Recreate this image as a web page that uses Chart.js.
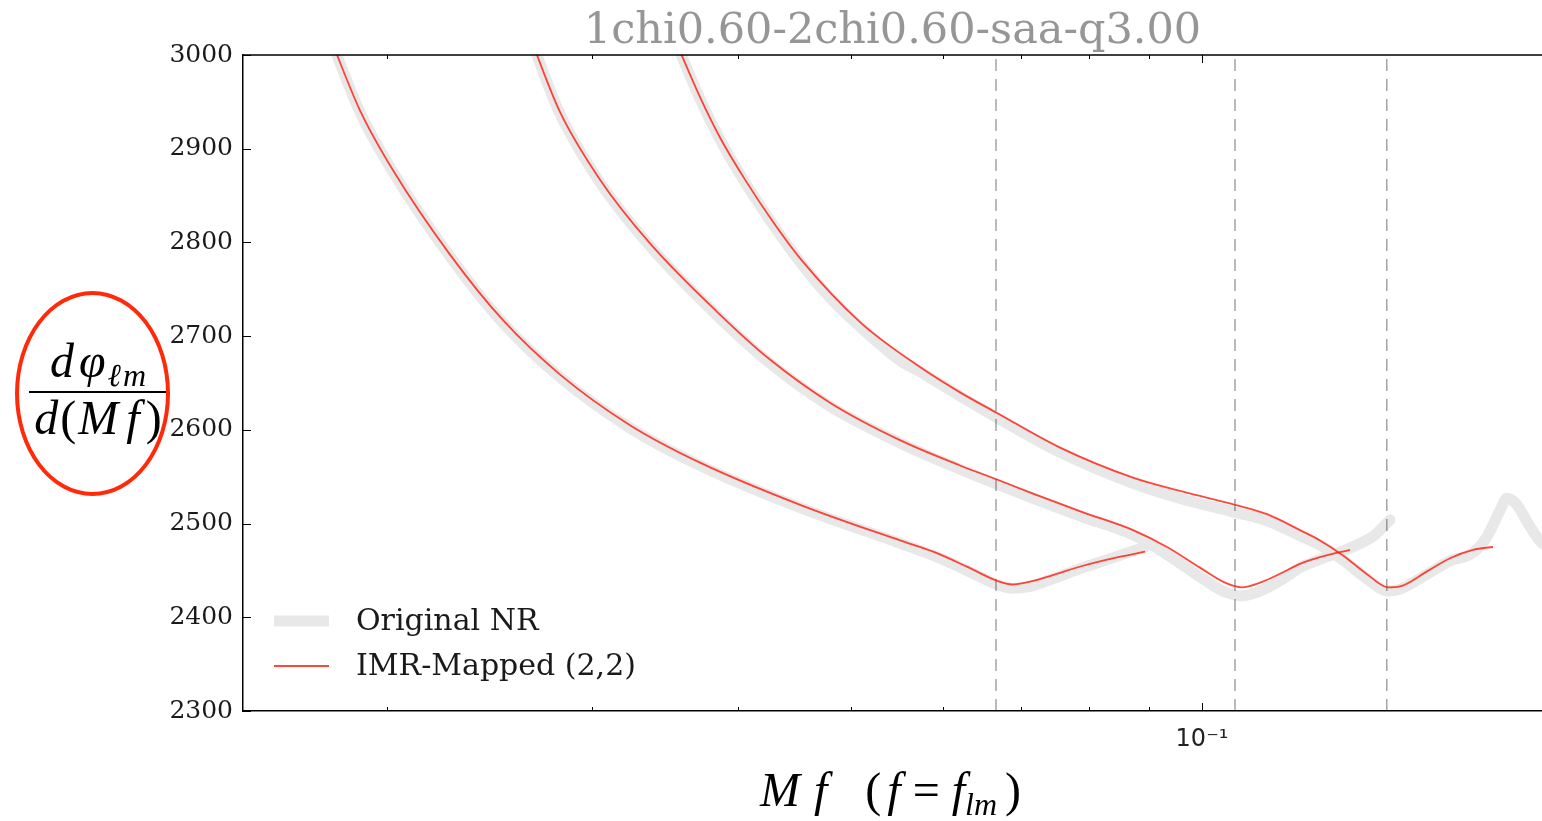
<!DOCTYPE html>
<html>
<head>
<meta charset="utf-8">
<script src="https://cdn.jsdelivr.net/npm/chart.js@4.4.0/dist/chart.umd.min.js"></script>
<style>
  html, body { margin: 0; padding: 0; background: #fff; overflow: hidden; }
  #wrap { position: relative; width: 1542px; height: 821px; }
  #mychart { position: absolute; left: 0; top: 0; }
  .math { position: absolute; font-family: 'Liberation Serif', serif; color: #000; white-space: nowrap; }
  .math i { font-style: italic; }
  #ylab { left: 29px; top: 341px; width: 140px; text-align: center; font-size: 48px; letter-spacing: 2px; }
  #ylab .num { line-height: 40px; height: 40px; padding-bottom: 10px; border-bottom: 2px solid #000; }
  #ylab .den { line-height: 50px; }
  #xlab { left: 760px; top: 766px; font-size: 48px; line-height: 48px; }
  .sub { position: relative; top: 9px; font-size: 32px; }
  #ring { position: absolute; left: 15px; top: 291px; width: 147px; height: 197px;
          border: 4px solid #ff2a0a; border-radius: 50%; }
</style>
</head>
<body>
<div id="wrap">
  <canvas id="mychart" width="1542" height="821"></canvas>
  <div class="math" id="ylab"><div class="num"><i>d</i><i style="margin-left:3px">φ</i><span class="sub"><i>ℓm</i></span></div><div class="den"><i>d</i>(<i>M</i><i style="margin-left:6px">f</i><span style="margin-left:4px">)</span></div></div>
  <div class="math" id="xlab"><i>M</i><i style="margin-left:14px">f</i><span style="margin-left:38px">(</span><i style="margin-left:6px">f</i><span style="margin-left:12px">=</span><i style="margin-left:12px">f</i><span class="sub"><i>lm</i></span><span style="margin-left:8px">)</span></div>
  <div id="ring"></div>
</div>
<script>
// axes
var xMin = 0.01505;
var xMax = 0.1957;
var yMin = 2300;
var yMax = 3000;
var xTickValues = [0.02, 0.03, 0.04, 0.05, 0.06, 0.07, 0.08, 0.09, 0.1];
var peakFreqs = [0.06658, 0.10673, 0.14405];

// IMR-Mapped (2,2), three runs
var mappedFreqA = [0.01787, 0.01896, 0.02024, 0.02265, 0.02515, 0.02815, 0.03232, 0.03711, 0.04522, 0.05508, 0.05881, 0.06287, 0.06670, 0.06871, 0.07120, 0.07407, 0.07906, 0.08455, 0.08936];
var mappedPhaseA = [3019, 2941, 2877, 2787, 2717, 2659, 2605, 2565, 2520, 2482, 2470, 2454, 2439, 2435, 2438, 2444, 2455, 2464, 2470];

var mappedFreqB = [0.02653, 0.02815, 0.03046, 0.03362, 0.03838, 0.04261, 0.04797, 0.05508, 0.06201, 0.06670, 0.07162, 0.07906, 0.08726, 0.09332, 0.09960, 0.10465, 0.10823, 0.11214, 0.11735, 0.12135, 0.12699, 0.13395];
var mappedPhaseB = [3019, 2939, 2867, 2799, 2726, 2675, 2629, 2589, 2562, 2547, 2532, 2512, 2493, 2475, 2453, 2437, 2432, 2437, 2448, 2457, 2465, 2472];

var mappedFreqC = [0.03525, 0.03711, 0.03860, 0.04056, 0.04286, 0.04522, 0.05090, 0.05730, 0.06201, 0.06670, 0.07555, 0.08726, 0.09632, 0.10674, 0.11370, 0.12135, 0.12624, 0.13211, 0.13852, 0.14438, 0.14785, 0.15595, 0.16320, 0.17077, 0.17765];
var mappedPhaseC = [3019, 2955, 2912, 2867, 2822, 2783, 2715, 2667, 2640, 2618, 2581, 2549, 2534, 2520, 2510, 2493, 2482, 2466, 2446, 2432, 2433, 2449, 2463, 2472, 2475];

// Original NR
var nrFreqA = mappedFreqA;
var nrPhaseA = [3019, 2939, 2875, 2785, 2714, 2656, 2602, 2562, 2517, 2479, 2466, 2450, 2435, 2431, 2433, 2440, 2453, 2465, 2475];

var nrFreqB = [0.02653, 0.02815, 0.03046, 0.03362, 0.03838, 0.04261, 0.04797, 0.05508, 0.06201, 0.06670, 0.07162, 0.07906, 0.08726, 0.09332, 0.09960, 0.10465, 0.10823, 0.11214, 0.11735, 0.12135, 0.12699, 0.13395, 0.14073, 0.14495];
var nrPhaseB = [3019, 2937, 2864, 2796, 2722, 2671, 2625, 2586, 2558, 2542, 2527, 2507, 2488, 2467, 2443, 2427, 2423, 2428, 2441, 2453, 2463, 2474, 2488, 2504];

var nrFreqC = [0.03525, 0.03711, 0.03860, 0.04056, 0.04286, 0.04522, 0.04797, 0.05090, 0.05508, 0.05730, 0.06201, 0.06670, 0.07555, 0.08726, 0.09632, 0.10674, 0.11370, 0.12135, 0.12624, 0.13211, 0.13852, 0.14438, 0.14785, 0.15595, 0.16320, 0.17077, 0.17556, 0.18012, 0.18263, 0.18627, 0.19000, 0.19570, 0.20278];
var nrPhaseC = [3019, 2953, 2910, 2864, 2819, 2779, 2741, 2710, 2674, 2662, 2636, 2613, 2576, 2543, 2526, 2512, 2503, 2487, 2477, 2461, 2441, 2428, 2430, 2446, 2460, 2469, 2486, 2514, 2527, 2520, 2502, 2479, 2470];

function pts(xs, ys) {
  var out = [];
  for (var i = 0; i < xs.length; i++) out.push({x: xs[i], y: ys[i]});
  return out;
}

var serif = "'DejaVu Serif', serif";
var nrStyle = { borderColor: '#e8e8e8', borderWidth: 11, order: 2, borderCapStyle: 'round', borderJoinStyle: 'round' };
var mapStyle = { borderColor: 'rgba(255,25,10,0.8)', borderWidth: 1.8, order: 0 };

var datasets = [];
[[nrFreqA, nrPhaseA], [nrFreqB, nrPhaseB], [nrFreqC, nrPhaseC]].forEach(function(s, i) {
  datasets.push(Object.assign({ label: i === 0 ? 'Original NR' : '', data: pts(s[0], s[1]) }, nrStyle));
});
[[mappedFreqA, mappedPhaseA], [mappedFreqB, mappedPhaseB], [mappedFreqC, mappedPhaseC]].forEach(function(s, i) {
  datasets.push(Object.assign({ label: i === 0 ? 'IMR-Mapped (2,2)' : '', data: pts(s[0], s[1]) }, mapStyle));
});
peakFreqs.forEach(function(f) {
  datasets.push({ label: '', data: [{x: f, y: yMin}, {x: f, y: yMax}], borderColor: 'rgba(0,0,0,0.45)',
    borderWidth: 1.2, borderDash: [12, 8], order: 1, cubicInterpolationMode: 'default', tension: 0 });
});

// inward ticks, top spine and legend, matplotlib style
var axisDecor = {
  id: 'axisDecor',
  afterDatasetsDraw: function(chart) {
    var ctx = chart.ctx, a = chart.chartArea, x = chart.scales.x, y = chart.scales.y;
    ctx.save();
    ctx.strokeStyle = '#000';
    ctx.lineWidth = 1.5;
    ctx.beginPath(); ctx.moveTo(a.left, a.top); ctx.lineTo(a.right, a.top); ctx.stroke();
    ctx.lineWidth = 1;
    x.ticks.forEach(function(t) {
      var px = Math.round(x.getPixelForValue(t.value)) + 0.5;
      var len = t.major ? 8 : 4;
      ctx.beginPath();
      ctx.moveTo(px, a.bottom); ctx.lineTo(px, a.bottom - len);
      ctx.moveTo(px, a.top); ctx.lineTo(px, a.top + len);
      ctx.stroke();
    });
    y.ticks.forEach(function(t) {
      var py = Math.round(y.getPixelForValue(t.value)) + 0.5;
      ctx.beginPath(); ctx.moveTo(a.left, py); ctx.lineTo(a.left + 8, py); ctx.stroke();
    });
    var items = chart.data.datasets.filter(function(d) { return d.label; });
    ctx.font = "30px " + serif;
    ctx.textBaseline = 'middle';
    ctx.fillStyle = '#1a1a1a';
    items.forEach(function(d, i) {
      var yy = a.bottom - 90 + i * 45;
      ctx.strokeStyle = d.borderColor;
      ctx.lineWidth = d.borderWidth;
      ctx.lineCap = 'butt';
      ctx.beginPath(); ctx.moveTo(a.left + 31, yy); ctx.lineTo(a.left + 86, yy); ctx.stroke();
      ctx.fillText(d.label, a.left + 113, yy + 1);
    });
    ctx.restore();
  }
};

var ctx = document.getElementById('mychart');
var chart = new Chart(ctx, {
  type: 'line',
  data: { datasets: datasets },
  plugins: [axisDecor],
  options: {
    responsive: false,
    animation: false,
    devicePixelRatio: 1,
    layout: { padding: { left: 0, right: 0, top: 0, bottom: 0 } },
    elements: {
      point: { radius: 0 },
      line: { cubicInterpolationMode: 'monotone', fill: false }
    },
    datasets: { line: { clip: 0, pointRadius: 0 } },
    plugins: {
      legend: { display: false },
      tooltip: { enabled: false },
      title: {
        display: true,
        text: '1chi0.60-2chi0.60-saa-q3.00',
        color: '#969696',
        fullSize: false,
        font: { family: serif, size: 43, weight: 'normal', lineHeight: 1.05 },
        padding: { top: 9, bottom: 0.85 }
      }
    },
    scales: {
      x: {
        type: 'logarithmic',
        min: xMin,
        max: xMax,
        grid: { display: false, drawTicks: false },
        border: { display: true, color: '#000', width: 1.5 },
        afterBuildTicks: function(scale) {
          scale.ticks = xTickValues.map(function(v) { return { value: v, major: v === 0.1 }; });
        },
        afterFit: function(scale) { scale.height = 110; },
        ticks: {
          autoSkip: false,
          maxRotation: 0,
          padding: 14,
          color: '#222',
          font: { family: "'DejaVu Sans', sans-serif", size: 24 },
          callback: function(v) { return v === 0.1 ? '10⁻¹' : ''; }
        }
      },
      y: {
        min: yMin,
        max: yMax,
        grid: { display: false, drawTicks: false },
        border: { display: true, color: '#000', width: 1.5 },
        afterFit: function(scale) { scale.width = 243; },
        ticks: {
          stepSize: 100,
          padding: 10,
          color: '#1a1a1a',
          font: { family: serif, size: 25 },
          callback: function(v) { return String(v); }
        }
      }
    }
  }
});
</script>
</body>
</html>
